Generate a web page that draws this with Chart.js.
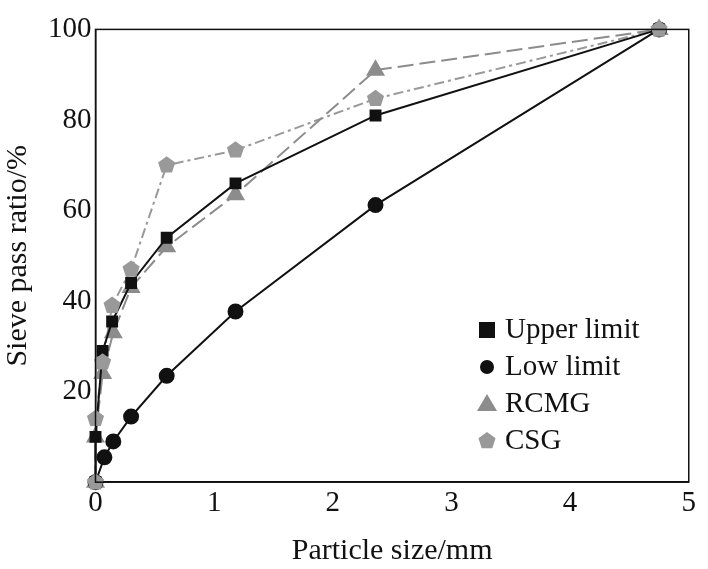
<!DOCTYPE html><html><head><script src="https://cdn.jsdelivr.net/npm/chart.js"></script>
<style>body{margin:0;background:#fff}#w{width:708px;height:569px}</style></head><body><div id="w"><canvas id="c"></canvas></div><script>
const lowX=[0,0.075,0.15,0.3,0.6,1.18,2.36,4.75];
const lowY=[0,5.5,9,14.5,23.5,37.7,61.2,100];
const upX=[0,0,0.06,0.14,0.3,0.6,1.18,2.36,4.75];
const upY=[0,10,29,35.5,44,54,66,81,100];
const rcX=[0,0,0.06,0.15,0.3,0.6,1.18,2.36,4.75];
const rcY=[0,10,24,33,43,52,63.5,91,100];
const csX=[0,0,0.06,0.14,0.3,0.6,1.18,2.36,4.75];
const csY=[0,14,26.5,39,47,70,73.3,84.7,100];
const xTicks=[0,1,2,3,4,5], yTicks=[0,20,40,60,80,100];
const pts=(xs,ys)=>xs.map((x,i)=>({x,y:ys[i]}));
const gray='#8c8c8c';
Chart.defaults.font.family='"Liberation Serif", serif';
Chart.defaults.font.size=29;
Chart.defaults.color='#111';
new Chart(document.getElementById('c'),{type:'scatter',data:{datasets:[
{label:'Upper limit',data:pts(upX,upY),showLine:true,borderColor:'#111',backgroundColor:'#111',borderWidth:2,pointStyle:'rect',pointRadius:7,clip:false},
{label:'Low limit',data:pts(lowX,lowY),showLine:true,borderColor:'#111',backgroundColor:'#111',borderWidth:2,pointStyle:'circle',pointRadius:7,clip:false},
{label:'RCMG',data:pts(rcX,rcY),showLine:true,borderColor:gray,backgroundColor:gray,borderWidth:2,borderDash:[16,6],pointStyle:'triangle',pointRadius:9,clip:false},
{label:'CSG',data:pts(csX,csY),showLine:true,borderColor:'#999',backgroundColor:'#999',borderWidth:2,borderDash:[10,4,3,4],pointRadius:0,clip:false}
]},options:{responsive:true,maintainAspectRatio:false,animation:false,
layout:{padding:{top:0,right:11,left:0,bottom:0}},
plugins:{legend:{display:false},tooltip:{enabled:false}},
scales:{x:{type:'linear',min:0,max:5,afterBuildTicks:a=>{a.ticks=xTicks.map(v=>({value:v}))},
 grid:{display:false,drawTicks:true,tickLength:-8,tickColor:'#111'},border:{color:'#111',width:1.5},
 ticks:{padding:12},title:{display:true,text:'Particle size/mm',font:{size:30},padding:{top:0,bottom:0}}},
y:{min:0,max:100,afterBuildTicks:a=>{a.ticks=yTicks.map(v=>({value:v}))},
 grid:{display:false,tickLength:-8,tickColor:'#111'},border:{color:'#111',width:1.5},
 ticks:{padding:12,callback:v=>v===0?'':v},title:{display:true,text:'Sieve pass ratio/%',font:{size:30},padding:{bottom:0,top:0}}}}},
plugins:[{id:'pent',afterDatasetsDraw(ch){const c=ch.ctx,m=ch.getDatasetMeta(3);c.save();c.fillStyle='#999';
 m.data.forEach(p=>{c.beginPath();for(let k=0;k<5;k++){const a=-Math.PI/2+k*2*Math.PI/5;c.lineTo(p.x+9*Math.cos(a),p.y+9*Math.sin(a));}c.closePath();c.fill();});c.restore();}},
{id:'frame',afterDraw(ch){const a=ch.chartArea,c=ch.ctx;c.save();c.strokeStyle='#111';c.lineWidth=1.5;c.strokeRect(a.left,a.top,a.right-a.left,a.bottom-a.top);
 const items=[['Upper limit','rect','#111'],['Low limit','circle','#111'],['RCMG','tri',gray],['CSG','pent','#999']];
 c.font='29px "Liberation Serif", serif';c.textBaseline='middle';
 items.forEach((it,i)=>{const x=487,y=330+i*37;c.fillStyle=it[2];c.beginPath();
  if(it[1]=='rect')c.rect(x-8,y-8,16,16);else if(it[1]=='circle')c.arc(x,y,7,0,7);else if(it[1]=='tri'){c.moveTo(x,y-10);c.lineTo(x+10,y+7);c.lineTo(x-10,y+7);}
  else{for(let k=0;k<5;k++){const an=-Math.PI/2+k*2*Math.PI/5;c.lineTo(x+9*Math.cos(an),y+9*Math.sin(an));}}
  c.closePath();c.fill();c.fillStyle='#111';c.fillText(it[0],x+18,y);});
 c.restore();}}]});
</script></body></html>
